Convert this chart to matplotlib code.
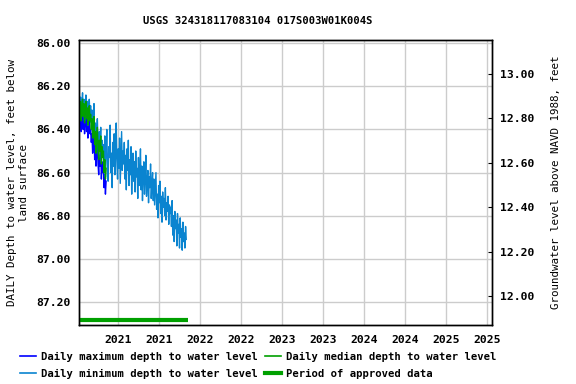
import matplotlib
matplotlib.use("Agg")
import matplotlib.pyplot as plt
import matplotlib.dates as mdates
import pandas as pd
from matplotlib.lines import Line2D

title = "USGS 324318117083104 017S003W01K004S"

# Daily minimum depth (every 3 days from 2020-07-08)
min_start = "2020-07-08"
min_depth = [
    86.27, 86.22, 86.32, 86.25, 86.35, 86.28, 86.23, 86.31, 86.26, 86.36,
    86.29, 86.24, 86.33, 86.27, 86.38, 86.30, 86.26, 86.34,
    86.29, 86.37, 86.31, 86.42, 86.34, 86.28, 86.45, 86.37, 86.50, 86.40,
    86.35, 86.47, 86.53, 86.41, 86.48, 86.39, 86.55, 86.45, 86.51,
    86.47, 86.58, 86.43, 86.62, 86.50, 86.40, 86.56, 86.64, 86.48, 86.53,
    86.38, 86.60, 86.51, 86.67, 86.46, 86.57, 86.42, 86.61, 86.52, 86.37,
    86.55, 86.63, 86.49, 86.58, 86.44, 86.65, 86.53, 86.41, 86.59, 86.50,
    86.56, 86.46, 86.63, 86.52, 86.68, 86.49, 86.59, 86.45, 86.66, 86.54,
    86.61, 86.48, 86.70, 86.57, 86.51, 86.64, 86.55, 86.69, 86.50, 86.62,
    86.58, 86.72, 86.53, 86.66, 86.60, 86.49, 86.68, 86.57, 86.73, 86.61,
    86.55, 86.70, 86.63, 86.52, 86.71, 86.64, 86.59, 86.74, 86.62, 86.67,
    86.56, 86.72, 86.65, 86.60, 86.73,
    86.63, 86.75, 86.68, 86.60, 86.77, 86.70, 86.81, 86.66, 86.74, 86.64,
    86.79, 86.71, 86.83, 86.69, 86.76, 86.72, 86.80, 86.67, 86.82, 86.74,
    86.78, 86.71, 86.84, 86.75, 86.79,
    86.76, 86.85, 86.73, 86.89, 86.80, 86.92, 86.78, 86.86, 86.82, 86.94,
    86.79, 86.88, 86.84, 86.95, 86.81, 86.90, 86.86, 86.96, 86.83, 86.92,
    86.88, 86.95, 86.85, 86.91,
]

# Daily median and maximum depth (every 3 days from 2020-07-08)
med_depth = [
    86.29, 86.25, 86.33, 86.27, 86.36, 86.30, 86.26, 86.34, 86.28, 86.37,
    86.31, 86.27, 86.35, 86.30, 86.38, 86.32, 86.29, 86.36,
    86.33, 86.40, 86.35, 86.44, 86.38, 86.34, 86.47, 86.41, 86.51, 86.44,
    86.39, 86.49, 86.54, 86.45, 86.50, 86.43, 86.56, 86.48, 86.53,
    86.50, 86.60, 86.54, 86.63, 86.58,
]
max_depth = [
    86.35, 86.32, 86.39, 86.33, 86.41, 86.36, 86.32, 86.40, 86.34, 86.42,
    86.37, 86.33, 86.41, 86.36, 86.44, 86.38, 86.35, 86.42,
    86.40, 86.46, 86.42, 86.51, 86.45, 86.41, 86.54, 86.48, 86.57, 86.51,
    86.46, 86.56, 86.61, 86.52, 86.57, 86.50, 86.63, 86.55, 86.60,
    86.58, 86.67, 86.61, 86.70, 86.64,
]

approved_start = "2020-07-08"
approved_end = "2021-11-07"

x_start = "2020-07-08"
x_end = "2025-07-24"
left_ylim = (87.307, 85.985)
right_ylim = (11.8697, 13.1506)
left_ticks = [86.0, 86.2, 86.4, 86.6, 86.8, 87.0, 87.2]
right_ticks = [12.0, 12.2, 12.4, 12.6, 12.8, 13.0]

c_max = "#0000ff"
c_min = "#0a84d0"
c_med = "#00a000"
c_app = "#00a000"

font = "DejaVu Sans Mono"
plt.rcParams["font.family"] = font
plt.rcParams["font.weight"] = "bold"

fig = plt.figure(figsize=(5.76, 3.84), dpi=100)
ax = fig.add_axes([78.5 / 576, 1 - 325 / 384, (492 - 78.5) / 576, (325 - 40) / 384])

d_min = pd.date_range(min_start, periods=len(min_depth), freq="3D")
d_mm = pd.date_range(min_start, periods=len(max_depth), freq="3D")

ax.plot(d_mm, max_depth, color=c_max, lw=1.0, zorder=3)
ax.plot(d_min, min_depth, color=c_min, lw=1.0, zorder=3)
ax.plot(d_mm, med_depth, color=c_med, lw=1.0, zorder=4)

ax.plot([pd.Timestamp(approved_start), pd.Timestamp(approved_end)], [0.0175, 0.0175],
        transform=ax.get_xaxis_transform(), color=c_app, lw=3.0, clip_on=False,
        solid_capstyle="butt", zorder=5)

ax.set_xlim(pd.Timestamp(x_start), pd.Timestamp(x_end))
ax.set_ylim(*left_ylim)
ax.set_yticks(left_ticks)
ax.set_yticklabels([f"{v:.2f}" for v in left_ticks])
ax.xaxis.set_major_locator(mdates.MonthLocator(bymonth=[1, 7]))
ax.xaxis.set_major_formatter(mdates.DateFormatter("%Y"))
ax.grid(True, color="#cccccc", lw=1.0)
ax.set_axisbelow(True)
ax.tick_params(axis="both", length=0, labelsize=8.2, pad=6)
ax.tick_params(axis="x", pad=7)
for s in ax.spines.values():
    s.set_color("black")
    s.set_linewidth(1.0)

ax.set_ylabel("DAILY Depth to water level, feet below\nland surface", fontsize=7.8, labelpad=5)
fig.text(258 / 576, 1 - 21 / 384, title, fontsize=7.6, ha="center", va="center")

ax2 = ax.twinx()
ax2.set_ylim(*right_ylim)
ax2.set_yticks(right_ticks)
ax2.set_yticklabels([f"{v:.2f}" for v in right_ticks])
ax2.tick_params(axis="y", direction="in", length=3, labelsize=8.2, pad=6)
ax2.set_ylabel("Groundwater level above NAVD 1988, feet", fontsize=7.8, labelpad=12)
for s in ax2.spines.values():
    s.set_linewidth(1.0)

handles = [
    Line2D([], [], color=c_max, lw=1.2),
    Line2D([], [], color=c_min, lw=1.2),
    Line2D([], [], color=c_med, lw=1.2),
    Line2D([], [], color=c_app, lw=3.0),
]
labels = [
    "Daily maximum depth to water level",
    "Daily minimum depth to water level",
    "Daily median depth to water level",
    "Period of approved data",
]
fig.legend(handles, labels, ncol=2, loc="upper left", bbox_to_anchor=(20 / 576, 1 - 352 / 384),
           frameon=False, fontsize=7.6, handlelength=1.5, handletextpad=0.5,
           columnspacing=0.7, borderpad=0, borderaxespad=0, labelspacing=0.62)

fig.savefig("out.png", dpi=100)
